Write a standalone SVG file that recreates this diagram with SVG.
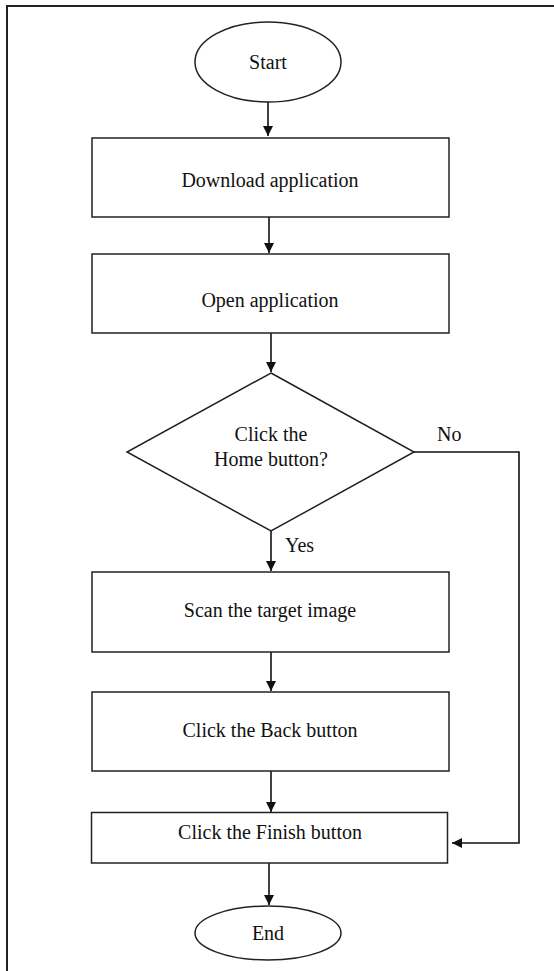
<svg xmlns="http://www.w3.org/2000/svg" width="554" height="971" viewBox="0 0 554 971">
<style>
.s{fill:#fff;stroke:#222;stroke-width:1.5}
.t{font-family:"Liberation Serif","Times New Roman",serif;font-size:20px;fill:#111;text-anchor:middle}
.l{font-family:"Liberation Serif","Times New Roman",serif;font-size:20px;fill:#111}
.c{fill:none;stroke:#111;stroke-width:1.6}
</style>
<defs>
<marker id="a" viewBox="0 0 10 10" refX="10" refY="5" markerWidth="10" markerHeight="10" markerUnits="userSpaceOnUse" orient="auto">
<path d="M0,0 L10,5 L0,10 z" fill="#111"/>
</marker>
</defs>
<rect width="554" height="971" fill="#fff"/>
<path d="M7,975 V6 H560" fill="none" stroke="#222" stroke-width="2"/>
<g id="connectors">
<path class="c" d="M268,102 V136" marker-end="url(#a)"/>
<path class="c" d="M269,217 V253" marker-end="url(#a)"/>
<path class="c" d="M271,333 V372" marker-end="url(#a)"/>
<path class="c" d="M271,531 V571" marker-end="url(#a)"/>
<path class="c" d="M271,652 V691" marker-end="url(#a)"/>
<path class="c" d="M271,771 V812" marker-end="url(#a)"/>
<path class="c" d="M269,863 V905" marker-end="url(#a)"/>
<path class="c" d="M414,452 H519 V843 H452" marker-end="url(#a)"/>
<text class="l" x="437" y="441">No</text>
<text class="l" x="285" y="552">Yes</text>
</g>
<g id="start">
<ellipse class="s" cx="268" cy="62" rx="73" ry="40"/>
<text class="t" x="268" y="69">Start</text>
</g>
<g id="download">
<rect class="s" x="92" y="138" width="357" height="79"/>
<text class="t" x="270" y="187">Download application</text>
</g>
<g id="open">
<rect class="s" x="92" y="254" width="357" height="79"/>
<text class="t" x="270" y="307">Open application</text>
</g>
<g id="decision">
<polygon class="s" points="271,373 414,452 271,531 127,452"/>
<text class="t" x="271" y="441">Click the</text>
<text class="t" x="271" y="466">Home button?</text>
</g>
<g id="scan">
<rect class="s" x="92" y="572" width="357" height="80"/>
<text class="t" x="270" y="617">Scan the target image</text>
</g>
<g id="back">
<rect class="s" x="92" y="692" width="357" height="79"/>
<text class="t" x="270" y="737">Click the Back button</text>
</g>
<g id="finish">
<rect class="s" x="91.5" y="812.5" width="356" height="50.5"/>
<text class="t" x="270" y="839">Click the Finish button</text>
</g>
<g id="end">
<ellipse class="s" cx="268" cy="933" rx="73" ry="27"/>
<text class="t" x="268" y="940">End</text>
</g>
</svg>
